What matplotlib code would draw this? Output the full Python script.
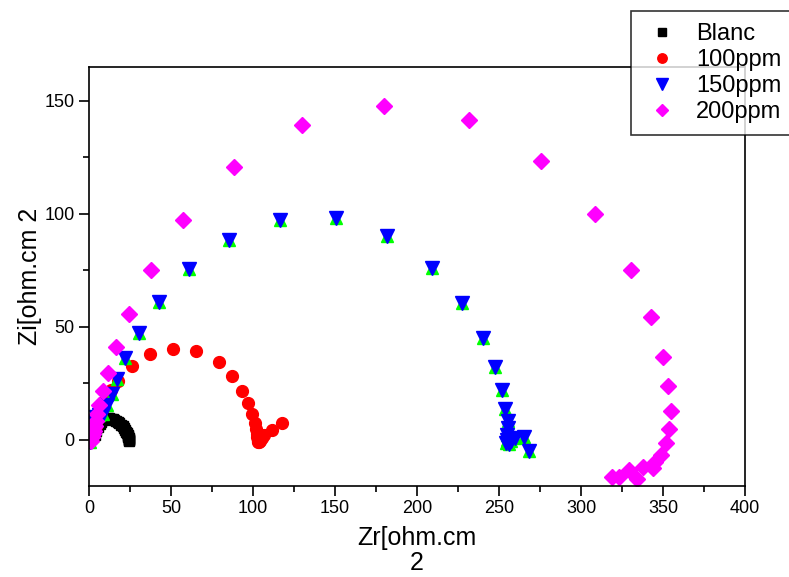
import matplotlib.pyplot as plt
from matplotlib.ticker import MultipleLocator

plt.rcParams['font.family'] = ['Liberation Sans', 'DejaVu Sans']

# Nyquist data: Zr (real part) and Zi (imaginary part), ohm.cm2
blanc_zr = [3.5, 4.5, 5.5, 6.5, 7.5, 8.5, 9.5, 10.5, 11.5, 12.5, 13.5, 14.5, 15.5,
            16.5, 17.5, 18.5, 19.5, 20.5, 21.3, 22.0, 22.6, 23.1, 23.5, 23.8, 24.0,
            24.2, 24.3, 24.4, 24.4, 24.5]
blanc_zi = [2.0, 4.0, 5.5, 6.8, 7.8, 8.5, 9.0, 9.3, 9.4, 9.4, 9.3, 9.1, 8.8,
            8.4, 7.9, 7.3, 6.6, 5.8, 5.0, 4.2, 3.5, 2.8, 2.2, 1.6, 1.1,
            0.7, 0.3, 0.0, -0.3, -0.5]

ppm100_zr = [2.0, 3.0, 4.0, 5.5, 7.5, 10.0, 13.5, 17.7, 26.0, 37.0, 51.0, 65.0, 79.0,
             87.0, 93.0, 97.0, 99.5, 101.0, 101.8, 102.3, 102.6, 102.8, 102.9, 103.2,
             103.8, 104.5, 105.5, 107.0, 111.5, 117.5]
ppm100_zi = [0.5, 3.0, 6.0, 9.5, 13.5, 17.5, 22.0, 26.0, 32.7, 38.0, 40.2, 39.0, 34.5,
             28.3, 21.7, 16.0, 11.2, 7.2, 4.5, 2.5, 1.0, 0.0, -0.8, -1.3,
             -1.2, -0.5, 0.5, 1.8, 4.2, 7.3]

ppm150_zr = [0.5, 1.0, 1.5, 2.3, 3.3, 4.5, 6.0, 8.5, 10.8, 13.8, 17.0, 22.0, 30.5,
             42.7, 61.0, 85.4, 116.5, 150.6, 182.0, 209.0, 227.4, 240.0, 247.6, 252.0,
             253.7, 255.3, 255.5, 255.0, 254.7, 254.5, 256.0, 257.5, 259.8, 265.0, 268.0]
ppm150_zi = [-1.0, 1.0, 3.0, 5.5, 8.0, 10.0, 11.0, 11.5, 15.5, 20.3, 27.0, 36.3, 47.3,
             61.0, 75.5, 88.5, 97.3, 98.2, 90.0, 76.0, 60.5, 45.0, 32.3, 22.0,
             13.7, 8.4, 4.9, 2.0, 0.0, -1.5, -2.0, -0.5, 0.9, 1.3, -5.2]

ppm200_zr = [1.5, 2.0, 2.5, 3.0, 3.5, 4.0, 4.7, 6.3, 8.3, 11.6, 16.5, 24.4, 37.8,
             57.3, 88.4, 130.0, 180.0, 231.7, 275.6, 308.5, 330.5, 342.7, 350.0, 353.0,
             354.7, 353.7, 351.8, 349.0, 345.0, 344.0, 338.0, 334.0, 329.0, 323.0, 319.0]
ppm200_zi = [-0.5, 1.0, 2.5, 4.0, 6.0, 8.0, 11.5, 15.5, 21.4, 29.6, 41.0, 55.8, 75.2,
             97.3, 120.8, 139.4, 147.8, 141.6, 123.5, 100.0, 75.2, 54.4, 36.7, 23.5,
             12.8, 4.6, -1.6, -7.0, -10.0, -12.4, -12.2, -17.3, -13.7, -16.7, -16.7]

fig = plt.figure(figsize=(7.89, 5.77), dpi=100)
ax = fig.add_axes([0.1128, 0.158, 0.8314, 0.726])

ax.plot(blanc_zr, blanc_zi, 's', color='black', ms=7.5, mec='black', label='Blanc')
ax.plot(ppm100_zr, ppm100_zi, 'o', color='red', ms=8.5, mec='red', label='100ppm')
# green fit points sit under the 150ppm triangles
ax.plot(ppm150_zr, ppm150_zi, '^', color='#00ff00', ms=8, mec='#00ff00')
ax.plot(ppm150_zr, ppm150_zi, 'v', color='blue', ms=10, mec='blue', label='150ppm')
ax.plot(ppm200_zr, ppm200_zi, 'D', color='#ff00ff', ms=8, mec='#ff00ff', label='200ppm')

ax.set_xlim(0, 400)
ax.set_ylim(-20.5, 165)
ax.xaxis.set_major_locator(MultipleLocator(50))
ax.xaxis.set_minor_locator(MultipleLocator(25))
ax.yaxis.set_major_locator(MultipleLocator(50))
ax.yaxis.set_minor_locator(MultipleLocator(25))
ax.tick_params(which='both', direction='out', top=False, right=False,
               width=1.2, labelsize=13, colors='black')
ax.tick_params(which='major', length=7)
ax.tick_params(which='minor', length=4)
for sp in ax.spines.values():
    sp.set_linewidth(1.2)

ax.set_xlabel('Zr[ohm.cm\n2', fontsize=18, labelpad=6, linespacing=1.05)
ax.set_ylabel('Zi[ohm.cm 2', fontsize=18, labelpad=1.5)

handles, labels = ax.get_legend_handles_labels()
leg = fig.legend(handles, labels, loc='upper left',
                 bbox_to_anchor=(631 / 789, 1 - 11 / 577), borderaxespad=0,
                 fontsize=17, frameon=True, fancybox=False, edgecolor='black',
                 handlelength=1.6, handletextpad=0.65, labelspacing=0.17,
                 borderpad=0.5, markerscale=0.8)
leg.get_frame().set_linewidth(1.2)

fig.savefig('out.png', dpi=100)
